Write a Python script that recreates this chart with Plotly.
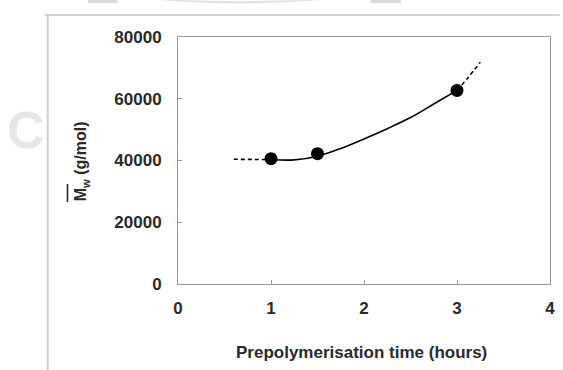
import plotly.graph_objects as go

# Measured points
time_h = [1.0, 1.5, 3.0]
mw = [40600, 42200, 62700]

# Fitted curve
curve_x = [1.0, 1.25, 1.5, 1.75, 2.0, 2.25, 2.5, 2.75, 3.0]
curve_y = [40300, 40200, 41400, 43900, 47000, 50300, 53900, 58300, 62700]
dash_left_x = [0.6, 0.8, 1.0]
dash_left_y = [40400, 40350, 40300]
dash_right_x = [3.0, 3.12, 3.25]
dash_right_y = [62700, 66900, 71800]

x_ticks = [0, 1, 2, 3, 4]
y_ticks = [0, 20000, 40000, 60000, 80000]
x_tick_labels = ["0", "1", "2", "3", "4"]
y_tick_labels = ["0", "20000", "40000", "60000", "80000"]

W, H = 563, 370
L, R, T, B = 178, 8, 37, 86
pw, ph = W - L - R, H - T - B

def px(x):
    return (x - L) / pw

def py(y):
    return (H - B - y) / ph

FONT = "Liberation Sans, Arial, sans-serif"
TXT = "#2a2a2a"

fig = go.Figure()
fig.add_trace(go.Scatter(x=dash_left_x, y=dash_left_y, mode="lines",
                         line=dict(color="black", width=1.6, dash="4px,3px"),
                         showlegend=False, hoverinfo="skip"))
fig.add_trace(go.Scatter(x=curve_x, y=curve_y, mode="lines",
                         line=dict(color="black", width=1.6, shape="spline"),
                         showlegend=False, hoverinfo="skip"))
fig.add_trace(go.Scatter(x=dash_right_x, y=dash_right_y, mode="lines",
                         line=dict(color="black", width=1.6, dash="4px,3px", shape="spline"),
                         showlegend=False, hoverinfo="skip"))
fig.add_trace(go.Scatter(x=time_h, y=mw, mode="markers",
                         marker=dict(color="black", size=13),
                         showlegend=False))

axis_common = dict(showgrid=False, zeroline=False, showline=True, mirror=True,
                   linecolor="#9a9a9a", linewidth=1, ticks="inside", ticklen=4,
                   tickcolor="#9a9a9a",
                   tickfont=dict(family=FONT, size=17, color=TXT, weight="bold"))
fig.update_xaxes(range=[0, 4], tickvals=x_ticks, ticktext=x_tick_labels,
                 ticklabelstandoff=9, **axis_common)
fig.update_yaxes(range=[0, 80000], tickvals=y_ticks, ticktext=y_tick_labels,
                 ticklabelstandoff=12, **axis_common)

annotations = [
    dict(text="<b>Prepolymerisation time (hours)</b>", x=px(364), y=py(352), xref="paper", yref="paper",
         showarrow=False, font=dict(family=FONT, size=17, color=TXT), xanchor="center", yanchor="middle"),
    dict(text="<b>M<sub>w</sub> (g/mol)</b>", x=px(80), y=py(161), xref="paper", yref="paper",
         showarrow=False, textangle=-90, font=dict(family=FONT, size=16, color=TXT),
         xanchor="center", yanchor="middle"),
    dict(text="<b>C</b>", x=px(24), y=py(130), xref="paper", yref="paper", showarrow=False,
         font=dict(family=FONT, size=52, color="#e6e6e6"), xanchor="center", yanchor="middle"),
]

shapes = [
    # overbar above M_w
    dict(type="line", xref="paper", yref="paper", x0=px(66), x1=px(66), y0=py(184), y1=py(202),
         line=dict(color=TXT, width=1.6)),
    # outer page frame
    dict(type="line", xref="paper", yref="paper", x0=px(46), x1=px(46), y0=py(14), y1=py(372),
         line=dict(color="#cfcfcf", width=2)),
    dict(type="line", xref="paper", yref="paper", x0=px(43), x1=px(565), y0=py(15), y1=py(15),
         line=dict(color="#d2d2d2", width=2)),
    # top watermark fragments
    dict(type="rect", xref="paper", yref="paper", x0=px(87), x1=px(117), y0=py(3), y1=py(-2),
         fillcolor="#dcdcdc", line=dict(width=0)),
    dict(type="rect", xref="paper", yref="paper", x0=px(373), x1=px(404), y0=py(3), y1=py(-2),
         fillcolor="#dcdcdc", line=dict(width=0)),
    dict(type="path", xref="paper", yref="paper",
         path=f"M {px(148)} {py(-1)} Q {px(240)} {py(8)} {px(335)} {py(-1)} L {px(320)} {py(-1)} Q {px(240)} {py(3)} {px(160)} {py(-1)} Z",
         fillcolor="#e4e4e4", line=dict(width=0)),
]

fig.update_layout(width=W, height=H, margin=dict(l=L, r=R, t=T, b=B),
                  paper_bgcolor="white", plot_bgcolor="white",
                  annotations=annotations, shapes=shapes, showlegend=False)

fig.write_html("out.html", config={"displayModeBar": False},
               post_script="document.body.style.margin='0px';document.body.style.overflow='hidden';")
